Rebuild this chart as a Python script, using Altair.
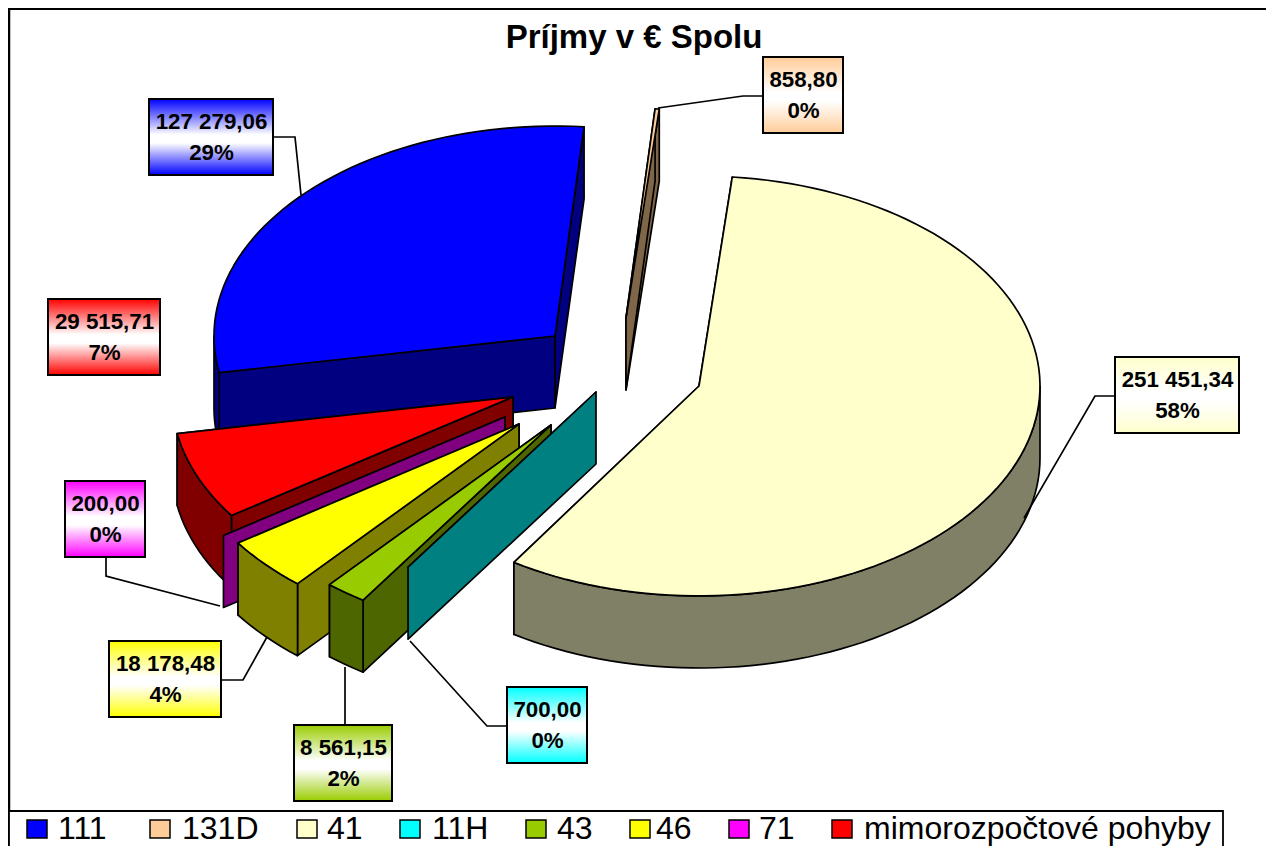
import math
import altair as alt

# ---- chart values -------------------------------------------------------
categories = ["41", "11H", "43", "46", "71", "mimorozpočtové pohyby", "111", "131D"]
values = [251451.34, 700.00, 8561.15, 18178.48, 200.00, 29515.71, 127279.06, 858.80]
value_labels = ["251 451,34", "700,00", "8 561,15", "18 178,48", "200,00", "29 515,71", "127 279,06", "858,80"]
percent_labels = ["58%", "0%", "2%", "4%", "0%", "7%", "29%", "0%"]
top_colors = ["#ffffcc", "#00ffff", "#99cc00", "#ffff00", "#ff00ff", "#ff0000", "#0000ff", "#ffcc99"]
side_colors = ["#808066", "#008080", "#4d6600", "#808000", "#800080", "#800000", "#000080", "#806648"]
grad_colors = ["#ffffcc", "#00ffff", "#99cc00", "#ffff00", "#ff00ff", "#ff0000", "#0000ff", "#ffcc99"]

legend_order = ["111", "131D", "41", "11H", "43", "46", "71", "mimorozpočtové pohyby"]
title_text = "Príjmy v € Spolu"

# ---- layout (page pixels) ----------------------------------------------
W, H = 1258, 838
first_angle = 5.6
rx, ry, depth = 341, 210, 72
apex_x = [699, 596, 551, 519, 505, 513, 555, 626]
apex_y = [386, 392, 425, 424, 417, 397, 336, 318]
draw_order = ["111", "131D", "41", "mimorozpočtové pohyby", "71", "46", "43", "11H"]
thin_front = ["11H", "71"]

box_x0 = [1115, 507, 294, 109, 65, 48, 149, 763]
box_x1 = [1239, 587, 392, 221, 145, 160, 273, 843]
box_y0 = [357, 687, 725, 641, 481, 299, 99, 57]
box_y1 = [433, 763, 801, 717, 557, 375, 175, 133]
leaders = [
    [(1115, 396), (1095, 396), (1024, 518)],
    [(507, 726), (487, 726), (410, 641)],
    [(345, 725), (345, 667)],
    [(222, 680), (243, 680), (267, 637)],
    [(106, 557), (106, 576), (220, 606)],
    [],
    [(273, 137), (295, 137), (301, 195)],
    [(763, 96), (743, 96), (658, 108)],
]
legend_swatch_x = [27, 150, 297, 400, 526, 630, 729, 832]
legend_text_x = [58, 182, 327, 432, 557, 656, 759, 864]

# ---- geometry from the values ------------------------------------------
total = sum(values)
starts, ends = [], []
a = first_angle
for v in values:
    starts.append(a)
    a += v / total * 360
    ends.append(a)


def pt(i, ang, drop=0):
    t = math.radians(ang)
    return [apex_x[i] + rx * math.sin(t), apex_y[i] - ry * math.cos(t) + drop]


def feature(ring, fill):
    ring = [list(p) for p in ring]
    ring.append(ring[0])
    return {"type": "Feature", "geometry": {"type": "Polygon", "coordinates": [ring]},
            "properties": {"fill": fill}}


def arc(i, a0, a1, drop=0):
    n = max(2, int(abs(a1 - a0) / 2) + 2)
    return [pt(i, a0 + (a1 - a0) * k / (n - 1), drop) for k in range(n)]


features = []
for name in draw_order:
    i = categories.index(name)
    c = [apex_x[i], apex_y[i]]
    c2 = [apex_x[i], apex_y[i] + depth]
    s, e = starts[i], ends[i]
    if name in thin_front:
        # a sliver this thin shows only its wall, which hides the top face
        features.append(feature([c] + arc(i, s, e), top_colors[i]))
        features.append(feature([c, pt(i, e), pt(i, e, depth), c2], side_colors[i]))
        continue
    for ang in (e, s):
        features.append(feature([c, pt(i, ang), pt(i, ang, depth), c2], side_colors[i]))
    lo, hi = max(s, 90), min(e, 270)
    if hi > lo:
        features.append(feature(arc(i, lo, hi) + arc(i, hi, lo, depth), side_colors[i]))
    features.append(feature([c] + arc(i, s, e), top_colors[i]))

x_scale = alt.Scale(domain=[8, 8 + W], nice=False, zero=False)
y_scale = alt.Scale(domain=[8 + H, 8], nice=False, zero=False)
X = alt.X("x:Q", scale=x_scale, axis=None)
Y = alt.Y("y:Q", scale=y_scale, axis=None)
X2 = alt.X2("x2:Q")
Y2 = alt.Y2("y2:Q")

layers = []

# pie
pie = (
    alt.Chart(alt.Data(values=features))
    .mark_geoshape(stroke="#000000", strokeWidth=1.7, strokeJoin="round")
    .encode(fill=alt.Fill("properties.fill:N", scale=None))
    .project(type="identity", scale=1, translate=[-8, -8])
)
layers.append(pie)

# leader lines
leader_rows = []
for i, pts in enumerate(leaders):
    for j, (x, y) in enumerate(pts):
        leader_rows.append({"x": x, "y": y, "g": i, "o": j})
layers.append(
    alt.Chart(alt.Data(values=leader_rows))
    .mark_line(color="#000000", strokeWidth=1.7)
    .encode(x=X, y=Y, detail="g:N", order="o:Q")
)

# gradient label boxes
for i in range(len(values)):
    grad = alt.LinearGradient(
        gradient="linear", x1=0, y1=0, x2=0, y2=1,
        stops=[
            alt.GradientStop(offset=0, color=grad_colors[i]),
            alt.GradientStop(offset=0.47, color="#ffffff"),
            alt.GradientStop(offset=0.58, color="#ffffff"),
            alt.GradientStop(offset=1, color=grad_colors[i]),
        ],
    )
    layers.append(
        alt.Chart(alt.Data(values=[{"x": box_x0[i], "x2": box_x1[i], "y": box_y0[i], "y2": box_y1[i]}]))
        .mark_rect(fill=grad, stroke="#000000", strokeWidth=2)
        .encode(x=X, x2=X2, y=Y, y2=Y2)
    )

label_rows = []
for i in range(len(values)):
    mx = (box_x0[i] + box_x1[i]) / 2 + 0.5
    my = (box_y0[i] + box_y1[i]) / 2
    label_rows.append({"x": mx, "y": my - 15.5, "t": value_labels[i]})
    label_rows.append({"x": mx, "y": my + 15.5, "t": percent_labels[i]})
layers.append(
    alt.Chart(alt.Data(values=label_rows))
    .mark_text(font="Liberation Sans", fontWeight="bold", fontSize=22.3, color="#000000",
               align="center", baseline="middle")
    .encode(x=X, y=Y, text="t:N")
)

# title
layers.append(
    alt.Chart(alt.Data(values=[{"x": 634, "y": 38, "t": title_text}]))
    .mark_text(font="Liberation Sans", fontWeight="bold", fontSize=33, color="#000000",
               align="center", baseline="middle")
    .encode(x=X, y=Y, text="t:N")
)

# chart frame
layers.append(
    alt.Chart(alt.Data(values=[{"x": 9, "y": 9}, {"x": 9, "y": 8 + H}]))
    .mark_line(color="#000000", strokeWidth=2.5).encode(x=X, y=Y, order="y:Q")
)
layers.append(
    alt.Chart(alt.Data(values=[{"x": 8, "y": 9}, {"x": 8 + W, "y": 9}]))
    .mark_line(color="#000000", strokeWidth=2).encode(x=X, y=Y, order="x:Q")
)

# legend
layers.append(
    alt.Chart(alt.Data(values=[{"x": 9, "x2": 1223, "y": 811, "y2": 870}]))
    .mark_rect(fill="#ffffff", stroke="#000000", strokeWidth=1.8, clip=True)
    .encode(x=X, x2=X2, y=Y, y2=Y2)
)
swatch_rows, legend_rows = [], []
for k, name in enumerate(legend_order):
    i = categories.index(name)
    swatch_rows.append({"x": legend_swatch_x[k], "x2": legend_swatch_x[k] + 20, "y": 820, "y2": 838,
                        "c": top_colors[i]})
    legend_rows.append({"x": legend_text_x[k], "y": 829, "t": name})
layers.append(
    alt.Chart(alt.Data(values=swatch_rows))
    .mark_rect(stroke="#000000", strokeWidth=1.5)
    .encode(x=X, x2=X2, y=Y, y2=Y2, fill=alt.Fill("c:N", scale=None))
)
layers.append(
    alt.Chart(alt.Data(values=legend_rows))
    .mark_text(font="Liberation Sans", fontSize=32, color="#000000", align="left", baseline="middle")
    .encode(x=X, y=Y, text="t:N")
)

chart = (
    alt.layer(*layers)
    .properties(width=W, height=H, padding=0, background="#ffffff",
                autosize=alt.AutoSizeParams(type="none"))
    .configure_view(stroke=None)
)
chart.save("out.html", embed_options={"renderer": "svg", "actions": False})
